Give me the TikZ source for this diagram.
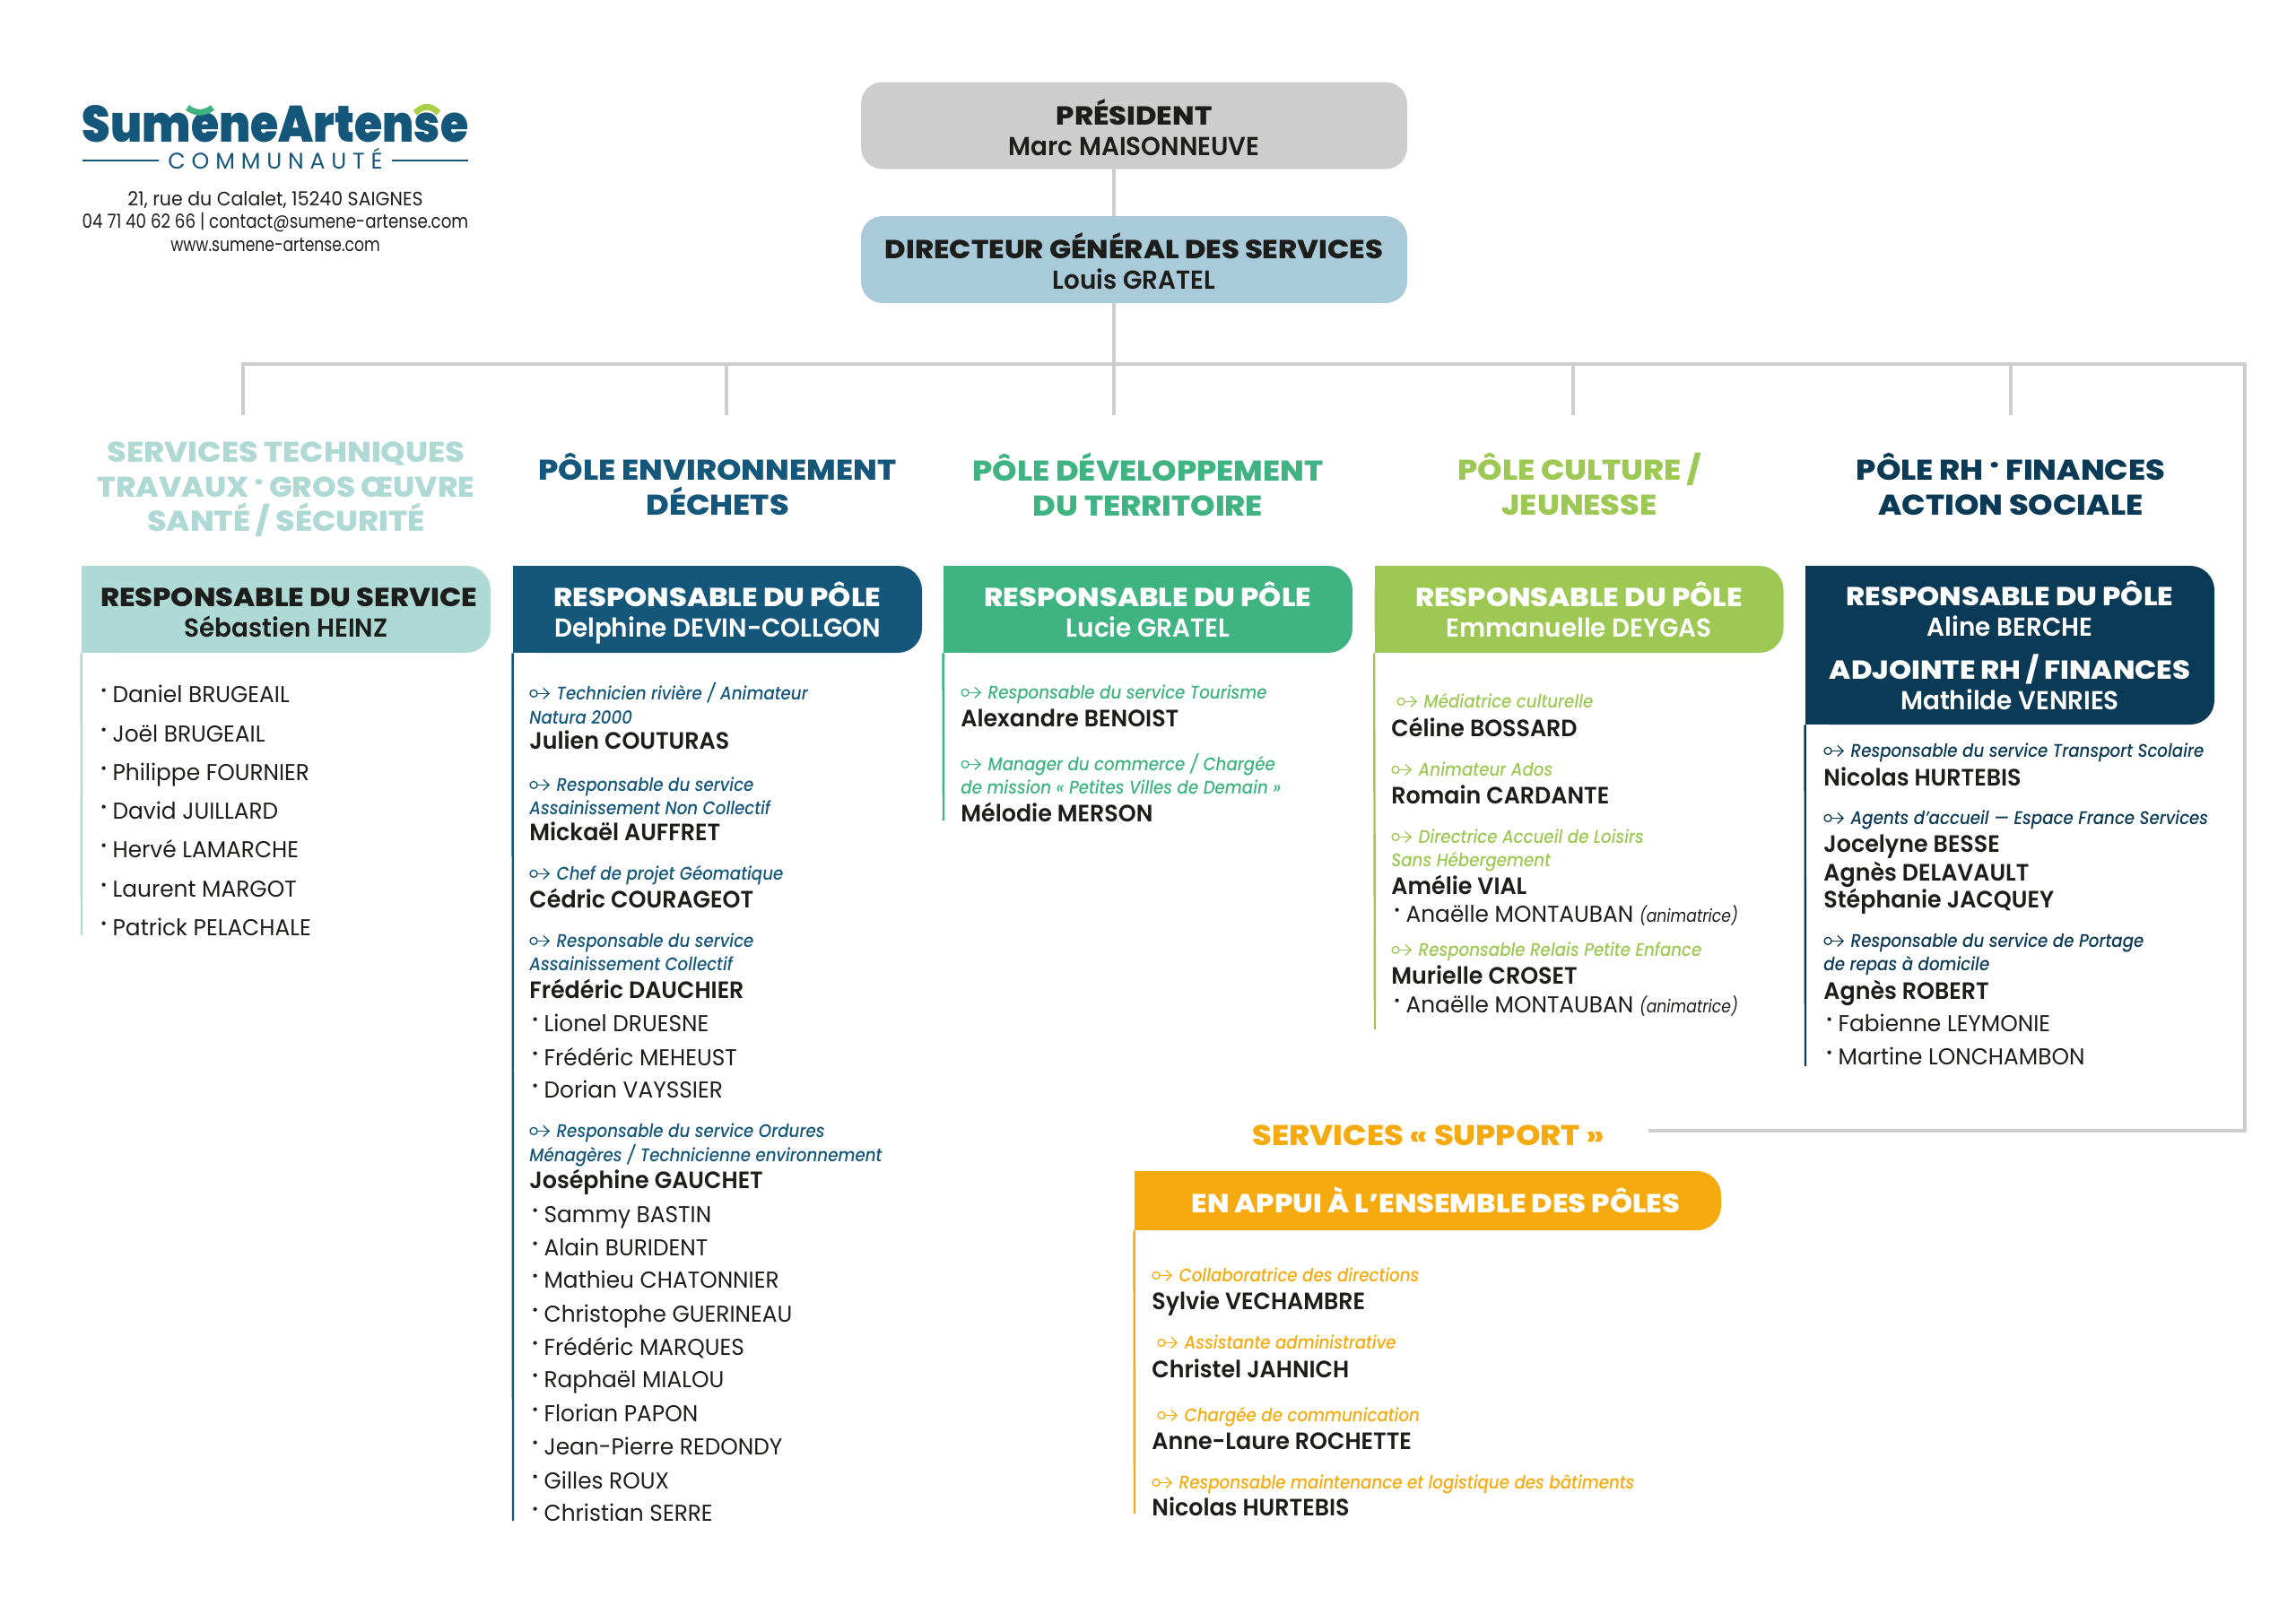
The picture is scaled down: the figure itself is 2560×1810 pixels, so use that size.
\documentclass[tikz,border=0pt]{standalone}
\usepackage{fontspec}
\setmainfont{Poppins}[FakeStretch=.97]
\newfontfamily\whofont{Poppins SemiBold}[FakeStretch=.96]
\newfontfamily\rolefont{Poppins Medium Italic}[FakeStretch=.895]
\newfontfamily\notefont{Poppins Italic}[FakeStretch=.86]
\newfontfamily\headfont{Poppins ExtraBold}[FakeStretch=1.1]
\newfontfamily\logofont{Poppins Black}[FakeStretch=.887]
\newfontfamily\commufont{Poppins}[FakeStretch=1,LetterSpace=27]
\definecolor{InkBlack}{HTML}{1D1D1B}
\definecolor{LinkGrey}{HTML}{CDCDCD}
\definecolor{DgsBlue}{HTML}{A9CBD9}
\definecolor{TechAqua}{HTML}{AFD9D4}
\definecolor{EnvBlue}{HTML}{14577A}
\definecolor{DevGreen}{HTML}{40B383}
\definecolor{CultLime}{HTML}{9CC853}
\definecolor{RhNavy}{HTML}{0B3A56}
\definecolor{SupAmber}{HTML}{F5AB10}
\newcommand{\keyicon}{\tikz[x=1pt,y=1pt,baseline=-3.3pt,line width=.65pt]{%
  \draw[RoleColor] (2,0) circle (2);
  \draw[RoleColor] (4,0) -- (10.5,0);
  \draw[RoleColor] (7.4,3) -- (10.5,0) -- (7.4,-3);}\hspace{4pt}}
\newcommand{\updot}{\raisebox{.22em}{·}}
\newcommand{\whoname}{\whofont\fontsize{14.5}{17}\selectfont}
\tikzset{
  headtop/.store in=\headtop,headtop=35pt,
  link/.style={draw=LinkGrey,line width=2.4pt},
  rail/.style={draw=#1,line width=1.2pt,xshift=.6pt},
  headline/.style={font=\headfont\fontsize{14.55}{17}\selectfont},
  topbox/.style={fill=#1,rounded corners=12pt,minimum width=304.5pt,minimum height=48.5pt,
    inner sep=0pt,align=center,text=InkBlack,headline,
    execute at begin node=\rule{0pt}{35.5pt},
    execute at end node=\rule[-2.25pt]{0pt}{2.25pt}},
  headbox/.style={fill=white,minimum width=228pt,minimum height=48.5pt,inner sep=0pt,
    align=center,headline,
    execute at begin node=\rule{0pt}{\headtop},
    execute at end node=\rule[-4pt]{0pt}{4pt},
    path picture={
      \fill[#1] (path picture bounding box.north west) rectangle (path picture bounding box.south);
      \fill[#1,rounded corners=13.5pt] (path picture bounding box.north west)
        rectangle (path picture bounding box.south east);}},
  poletitle/.style={inner sep=0pt,align=center,text=#1,
    font=\headfont\fontsize{15.9}{19.25}\selectfont,
    execute at begin node=\rule{0pt}{15pt},
    execute at end node=\rule[-4pt]{0pt}{4pt}},
  role/.style={anchor=base west,inner sep=0pt,text=RoleColor,
    font=\rolefont\fontsize{10.2}{12}\selectfont},
  lead/.style={role,execute at begin node=\keyicon},
  leadin/.style={lead,xshift=3pt},
  who/.style={anchor=base west,inner sep=0pt,text=InkBlack,yshift=-.6pt,
    font=\whofont\fontsize{13.2}{15}\selectfont},
  staff/.style={anchor=base west,inner sep=0pt,text=InkBlack,xshift=1.5pt,yshift=-.6pt,
    font=\fontsize{12.8}{15}\selectfont,
    execute at begin node=\makebox[6.6pt][l]{\raisebox{.18em}{\whofont·}}},
}
\begin{document}
\begin{tikzpicture}[x=.5pt,y=-.5pt]
\useasboundingbox (0,0) rectangle (2560,1810);

\node[anchor=base,inner sep=0pt,text=EnvBlue,font=\logofont\fontsize{28.5}{30}\selectfont]
  (logo) at (307,158) {SumeneArtense};
\draw[DevGreen,line width=3.4pt] (209,120) .. controls (218,127) and (228,127) .. (237,120);
\draw[CultLime!85!yellow,line width=3.4pt] (463,126) .. controls (472,117) and (480,117) .. (489,126);
\node[anchor=base,inner xsep=5pt,inner ysep=0pt,text=EnvBlue,font=\commufont\fontsize{12.6}{14}\selectfont]
  (commu) at (307,188) {COMMUNAUTÉ};
\coordinate (ruleleft) at (92,179);
\coordinate (ruleright) at (522,179);
\draw[EnvBlue,line width=1.1pt] (ruleleft) -- (ruleleft -| commu.west);
\draw[EnvBlue,line width=1.1pt] (ruleright) -- (ruleright -| commu.east);
\node[inner sep=0pt,align=center,text=InkBlack,font=\fontsize{10.8}{12.75}\selectfont]
  (address) at (307,247) {{\addfontfeatures{FakeStretch=.95}21, rue du Calalet, 15240 SAIGNES}\\
  {\addfontfeatures{FakeStretch=.845}04 71 40 62 66 | contact@sumene-artense.com}\\
  {\addfontfeatures{FakeStretch=.795}www.sumene-artense.com}};

\node[topbox=LinkGrey] (president) at (1264.5,140) {PRÉSIDENT\\ {\whoname Marc MAISONNEUVE}};
\node[topbox=DgsBlue] (dgs) at (1264.5,289.5) {DIRECTEUR GÉNÉRAL DES SERVICES\\ {\whoname Louis GRATEL}};

\coordinate (trunk) at (1242,406);
\coordinate (busne) at (2503,406);
\coordinate (busse) at (2503,1261);
\coordinate (busend) at (1838,1261);
\coordinate (techdrop) at (271,463);
\coordinate (envdrop) at (810,463);
\coordinate (devdrop) at (1242,463);
\coordinate (cultdrop) at (1754,463);
\coordinate (rhdrop) at (2242,463);
\draw[link] (president.south -| trunk) -- (dgs.north -| trunk);
\draw[link] (dgs.south -| trunk) -- (trunk);
\draw[link] (techdrop) |- (busne) -- (busse) -- (busend);
\draw[link] (envdrop) -- (envdrop |- trunk);
\draw[link] (devdrop) -- (devdrop |- trunk);
\draw[link] (cultdrop) -- (cultdrop |- trunk);
\draw[link] (rhdrop) -- (rhdrop |- trunk);

\node[poletitle=TechAqua] (techtitle) at (319,547) {SERVICES TECHNIQUES\\
  {\addfontfeatures{FakeStretch=1.07}TRAVAUX\hspace{.18em}\updot\hspace{.18em}GROS ŒUVRE}\\ SANTÉ / SÉCURITÉ};
\node[poletitle=EnvBlue] (envtitle) at (800,544) {PÔLE ENVIRONNEMENT\\ DÉCHETS};
\node[poletitle=DevGreen] (devtitle) at (1280,544) {PÔLE DÉVELOPPEMENT\\ DU TERRITOIRE};
\node[poletitle=CultLime] (culttitle) at (1761,544) {PÔLE CULTURE /\\ JEUNESSE};
\node[poletitle=RhNavy] (rhtitle) at (2242,544) {PÔLE RH \updot{} FINANCES\\ ACTION SOCIALE};
\node[poletitle=SupAmber] (suptitle) at (1593,1266) {SERVICES « SUPPORT »};

\node[headbox=TechAqua,text=InkBlack] (techhead) at (319,679.5)
  {\hspace{3pt}RESPONSABLE DU SERVICE\\ {\whoname Sébastien HEINZ}};
\node[headbox=EnvBlue,text=white] (envhead) at (800,679.5)
  {RESPONSABLE DU PÔLE\\ {\whoname Delphine DEVIN-COLLGON}};
\node[headbox=DevGreen,text=white] (devhead) at (1280,679.5)
  {RESPONSABLE DU PÔLE\\ {\whoname Lucie GRATEL}};
\node[headbox=CultLime,text=white] (culthead) at (1760.5,679.5)
  {RESPONSABLE DU PÔLE\\ {\whoname Emmanuelle DEYGAS}};
\node[headbox=RhNavy,text=white,minimum height=88.5pt,headtop=75.5pt] (rhhead) at (2241,719.5)
  {RESPONSABLE DU PÔLE\\ {\whoname Aline BERCHE}\\[7pt]
  ADJOINTE RH / FINANCES\\ {\whoname Mathilde VENRIES}};
\node[headbox=SupAmber,text=white,minimum width=327pt,minimum height=33pt,headtop=17.8pt]
  (suphead) at (1592,1339) {\hspace{9pt}EN APPUI À L’ENSEMBLE DES PÔLES};

\coordinate (techend) at (91,1043);
\coordinate (envend) at (572,1696);
\coordinate (devend) at (1052,915);
\coordinate (cultend) at (1533,1148);
\coordinate (rhend) at (2013,1189);
\coordinate (supend) at (1265,1688);
\draw[rail=TechAqua] (techhead.south west) -- (techend);
\draw[rail=EnvBlue] (envhead.south west) -- (envend);
\draw[rail=DevGreen] (devhead.south west) -- (devend);
\draw[rail=CultLime] (culthead.south west) -- (cultend);
\draw[rail=RhNavy] (rhhead.south west) -- (rhend);
\draw[rail=SupAmber] (suphead.south west) -- (supend);

\foreach \ypos/\txt in {782/Daniel BRUGEAIL,826/Joël BRUGEAIL,869/Philippe FOURNIER,
  912/David JUILLARD,955/Hervé LAMARCHE,999/Laurent MARGOT,1042/Patrick PELACHALE}
  \node[staff] (tech\ypos) at (109,\ypos) {\txt};

\colorlet{RoleColor}{EnvBlue}
\foreach \ypos/\kind/\txt in {780/lead/{Technicien rivière / Animateur},
  807/role/{Natura 2000},834/who/{Julien COUTURAS},
  882/lead/{Responsable du service},908/role/{Assainissement Non Collectif},
  936/who/{Mickaël AUFFRET},981/lead/{Chef de projet Géomatique},
  1011/who/{Cédric COURAGEOT},1056/lead/{Responsable du service},
  1082/role/{Assainissement Collectif},1112/who/{Frédéric DAUCHIER},
  1149/staff/{Lionel DRUESNE},1187/staff/{Frédéric MEHEUST},1223/staff/{Dorian VAYSSIER},
  1268/lead/{Responsable du service Ordures},
  1295/role/{Ménagères / Technicienne environnement},1324/who/{Joséphine GAUCHET},
  1362/staff/{Sammy BASTIN},1399/staff/{Alain BURIDENT},1435/staff/{Mathieu CHATONNIER},
  1473/staff/{Christophe GUERINEAU},1510/staff/{Frédéric MARQUES},1546/staff/{Raphaël MIALOU},
  1584/staff/{Florian PAPON},1621/staff/{Jean-Pierre REDONDY},1659/staff/{Gilles ROUX},
  1695/staff/{Christian SERRE}}
  \node[\kind] (env\ypos) at (590,\ypos) {\txt};

\colorlet{RoleColor}{DevGreen}
\foreach \ypos/\kind/\txt in {779/lead/{Responsable du service Tourisme},
  809/who/{Alexandre BENOIST},859/lead/{Manager du commerce / Chargée},
  885/role/{de mission « Petites Villes de Demain »},915/who/{Mélodie MERSON}}
  \node[\kind] (dev\ypos) at (1071,\ypos) {\txt};

\colorlet{RoleColor}{CultLime}
\foreach \ypos/\kind/\txt in {789/leadin/{Médiatrice culturelle},820/who/{Céline BOSSARD},
  865/lead/{Animateur Ados},895/who/{Romain CARDANTE},
  940/lead/{Directrice Accueil de Loisirs},966/role/{Sans Hébergement},996/who/{Amélie VIAL},
  1027/staff/{Anaëlle MONTAUBAN {\notefont\fontsize{10}{12}\selectfont(animatrice)}},
  1066/lead/{Responsable Relais Petite Enfance},1096/who/{Murielle CROSET},
  1128/staff/{Anaëlle MONTAUBAN {\notefont\fontsize{10}{12}\selectfont(animatrice)}}}
  \node[\kind] (cult\ypos) at (1551,\ypos) {\txt};

\colorlet{RoleColor}{RhNavy}
\foreach \ypos/\kind/\txt in {844/lead/{Responsable du service Transport Scolaire},
  875/who/{Nicolas HURTEBIS},919/lead/{Agents d’accueil — Espace France Services},
  949/who/{Jocelyne BESSE},981/who/{Agnès DELAVAULT},1011/who/{Stéphanie JACQUEY},
  1056/lead/{Responsable du service de Portage},1082/role/{de repas à domicile},
  1113/who/{Agnès ROBERT},1149/staff/{Fabienne LEYMONIE},1186/staff/{Martine LONCHAMBON}}
  \node[\kind] (rh\ypos) at (2033,\ypos) {\txt};

\colorlet{RoleColor}{SupAmber}
\foreach \ypos/\kind/\txt in {1429/lead/{Collaboratrice des directions},1459/who/{Sylvie VECHAMBRE},
  1504/leadin/{Assistante administrative},1535/who/{Christel JAHNICH},
  1585/leadin/{Chargée de communication},1615/who/{Anne-Laure ROCHETTE},
  1660/lead/{Responsable maintenance et logistique des bâtiments},1689/who/{Nicolas HURTEBIS}}
  \node[\kind] (sup\ypos) at (1284,\ypos) {\txt};
\end{tikzpicture}
\end{document}
